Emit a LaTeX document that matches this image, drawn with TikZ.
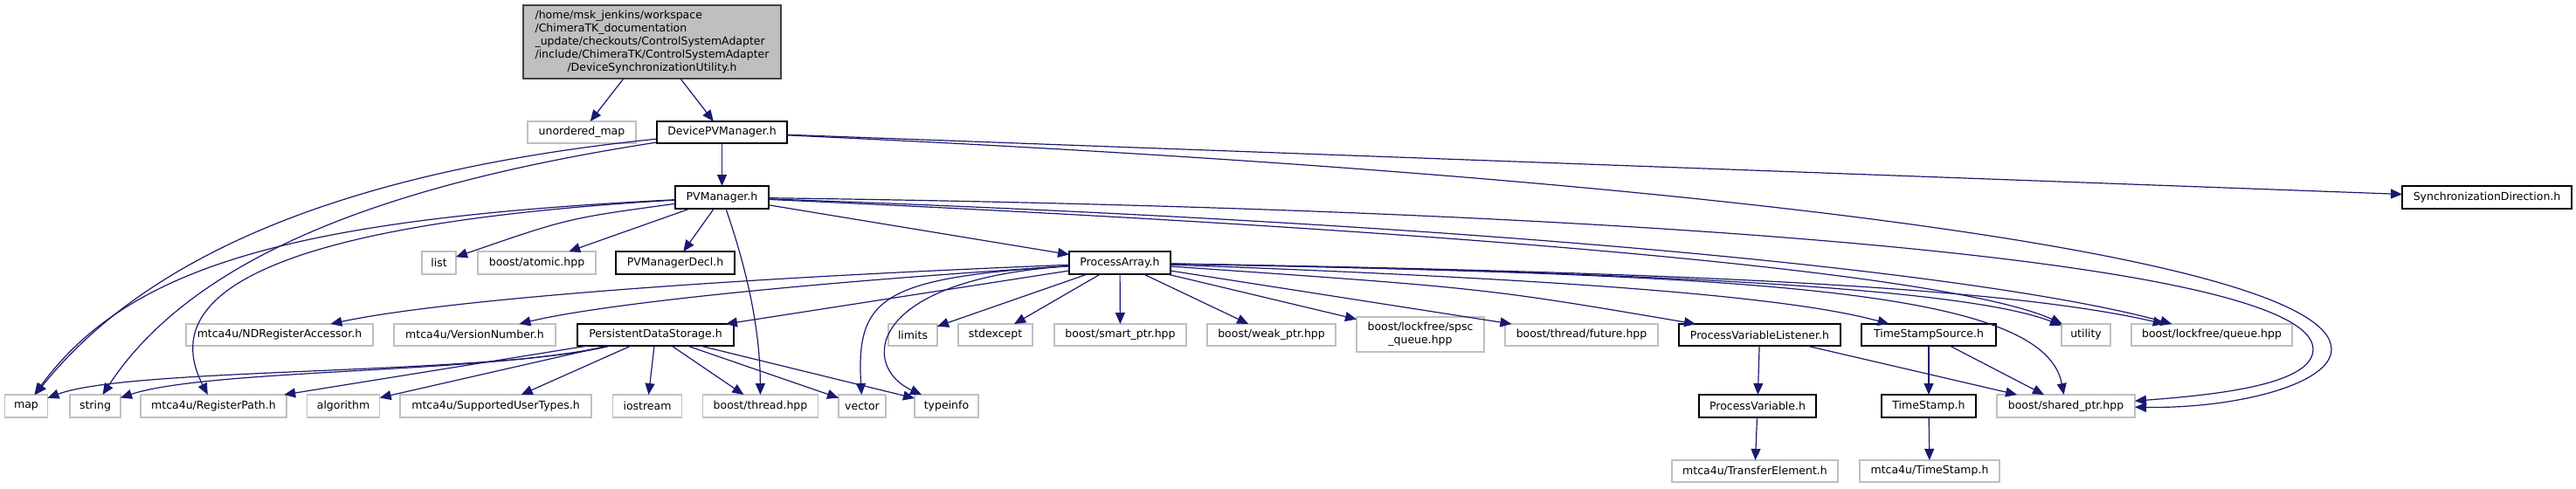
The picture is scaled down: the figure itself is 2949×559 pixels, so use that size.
\documentclass[tikz,border=0pt]{standalone}
\usepackage{fontspec}
\setmainfont{DejaVu Sans}
\usetikzlibrary{arrows.meta,calc}
\definecolor{edgeblue}{HTML}{191970}
\definecolor{boxgray}{HTML}{BFBFBF}
\definecolor{rootfill}{HTML}{BFBFBF}
\definecolor{rootdraw}{HTML}{404040}
\begin{document}
\begin{tikzpicture}[x=0.5pt,y=-0.5pt,
  every node/.style={font=\fontsize{6.25}{7.5}\selectfont, inner sep=0pt, outer sep=0pt, text=black},
  sz/.style 2 args={minimum width=#1*0.5pt, minimum height=#2*0.5pt},
  gbox/.style={draw=boxgray, line width=0.6pt, fill=white},
  kbox/.style={draw=black, line width=0.6pt, fill=white},
  rbox/.style={draw=rootdraw, line width=0.6pt, fill=rootfill},
  dep/.style={draw=edgeblue, line width=0.6pt, -{Triangle[length=6.5pt,width=5.5pt]}}
]
\useasboundingbox (0,0) rectangle (2949,559);
% row 0
\node[rbox,sz={295}{84}] (root) at (746.5,48) {\begin{tabular}{@{}l@{}}/home/msk\_jenkins/workspace\\/ChimeraTK\_documentation\\\_update/checkouts/ControlSystemAdapter\\/include/ChimeraTK/ControlSystemAdapter\\\multicolumn{1}{@{}c@{}}{/DeviceSynchronizationUtility.h}\end{tabular}};
% row 1
\node[gbox,sz={124}{25}] (umap) at (666,151.5) {unordered\_map};
\node[kbox,sz={149}{25}] (dpv) at (826.5,151.5) {DevicePVManager.h};
% row 2
\node[kbox,sz={107}{26}] (pvm) at (826.5,226) {PVManager.h};
\node[kbox,sz={194}{26}] (sync) at (2847,226) {SynchronizationDirection.h};
% row 3
\node[gbox,sz={39}{26}] (list) at (502.5,301) {list};
\node[gbox,sz={135}{26}] (atomic) at (614.5,301) {boost/atomic.hpp};
\node[kbox,sz={136}{26}] (decl) at (773,301) {PVManagerDecl.h};
\node[kbox,sz={116}{26}] (pa) at (1282,301) {ProcessArray.h};
% row 4
\node[gbox,sz={214}{25}] (nd) at (320,383.5) {mtca4u/NDRegisterAccessor.h};
\node[gbox,sz={185}{25}] (vn) at (543.5,383.5) {mtca4u/VersionNumber.h};
\node[kbox,sz={179}{25}] (pds) at (750.5,383.5) {PersistentDataStorage.h};
\node[gbox,sz={56}{25}] (limits) at (1045,383.5) {limits};
\node[gbox,sz={85}{25}] (stdexc) at (1139.5,383.5) {stdexcept};
\node[gbox,sz={151}{25}] (smart) at (1282.5,383.5) {boost/smart\_ptr.hpp};
\node[gbox,sz={147}{25}] (weak) at (1455.5,383.5) {boost/weak\_ptr.hpp};
\node[gbox,sz={146}{40},align=center] (spsc) at (1626,383) {boost/lockfree/spsc\\\_queue.hpp};
\node[gbox,sz={175}{25}] (future) at (1810.5,383.5) {boost/thread/future.hpp};
\node[kbox,sz={185}{25}] (pvl) at (2014.5,383.5) {ProcessVariableListener.h};
\node[kbox,sz={154}{25}] (tss) at (2208,383.5) {TimeStampSource.h};
\node[gbox,sz={56}{25}] (util) at (2388,383.5) {utility};
\node[gbox,sz={184}{25}] (queue) at (2532,383.5) {boost/lockfree/queue.hpp};
% row 5
\node[gbox,sz={49}{26}] (map) at (30,465) {map};
\node[gbox,sz={58}{26}] (string) at (109,465) {string};
\node[gbox,sz={167}{26}] (regpath) at (244.5,465) {mtca4u/RegisterPath.h};
\node[gbox,sz={83.5}{26}] (algo) at (393,465) {algorithm};
\node[gbox,sz={219}{26}] (sut) at (567.5,465) {mtca4u/SupportedUserTypes.h};
\node[gbox,sz={78.5}{26}] (iostream) at (741,465) {iostream};
\node[gbox,sz={131.5}{26}] (thread) at (870.5,465) {boost/thread.hpp};
\node[gbox,sz={54}{26}] (vector) at (987,465) {vector};
\node[gbox,sz={73}{26}] (typeinfo) at (1083.5,465) {typeinfo};
\node[kbox,sz={134}{26}] (pv) at (2012,465) {ProcessVariable.h};
\node[kbox,sz={108}{26}] (ts) at (2208,465) {TimeStamp.h};
\node[gbox,sz={158}{26}] (shared) at (2365,465) {boost/shared\_ptr.hpp};
% row 6
\node[gbox,sz={190}{25}] (transfer) at (2009,539.5) {mtca4u/TransferElement.h};
\node[gbox,sz={160}{25}] (mts) at (2209,539.5) {mtca4u/TimeStamp.h};

% edges from root
\draw[dep] (root) -- (umap);
\draw[dep] (root) -- (dpv);
% DevicePVManager
\draw[dep] (dpv) -- (pvm);
\draw[dep] (dpv) .. controls (400,195) and (170,290) .. (map);
\draw[dep] (dpv) .. controls (480,205) and (230,280) .. (string);
\draw[dep] (dpv) -- (sync);
\draw[dep] (dpv) .. controls (1900,200) and (2669,290) .. (2669,400) .. controls (2669,440) and (2560,468) .. (shared);
% PVManager
\draw[dep] (pvm) .. controls (350,250) and (150,300) .. (map);
\draw[dep] (pvm) .. controls (330,255) and (175,330) .. (regpath);
\draw[dep] (pvm) .. controls (650,250) .. (list);
\draw[dep] (pvm) -- (atomic);
\draw[dep] (pvm) -- (decl);
\draw[dep] (pvm) -- (pa);
\draw[dep] (pvm) .. controls (852,300) and (870,370) .. (thread);
\draw[dep] (pvm) .. controls (1800,270) and (2250,320) .. (util);
\draw[dep] (pvm) .. controls (1800,260) and (2300,320) .. (queue);
\draw[dep] (pvm) .. controls (1900,240) and (2648,300) .. (2648,400) .. controls (2648,440) and (2540,452) .. (shared);
% ProcessArray
\draw[dep] (pa) .. controls (800,320) and (500,345) .. (nd);
\draw[dep] (pa) .. controls (900,325) and (680,350) .. (vn);
\draw[dep] (pa) -- (pds);
\draw[dep] (pa) -- (limits);
\draw[dep] (pa) -- (stdexc);
\draw[dep] (pa) -- (smart);
\draw[dep] (pa) -- (weak);
\draw[dep] (pa) -- (spsc);
\draw[dep] (pa) -- (future);
\draw[dep] (pa) .. controls (1700,330) .. (pvl);
\draw[dep] (pa) .. controls (1800,320) and (2050,340) .. (tss);
\draw[dep] (pa) .. controls (1900,312) and (2250,330) .. (util);
\draw[dep] (pa) .. controls (1950,312) and (2300,330) .. (queue);
\draw[dep] (pa) .. controls (2000,315) and (2340,330) .. (shared);
\draw[dep] (pa) .. controls (1010,318) and (980,340) .. (vector);
\draw[dep] (pa) .. controls (990,320) and (985,420) .. (typeinfo);
% PersistentDataStorage
\draw[dep] (pds) .. controls (560,430) and (150,420) .. (map);
\draw[dep] (pds) .. controls (560,428) and (240,422) .. (string);
\draw[dep] (pds) -- (regpath);
\draw[dep] (pds) -- (algo);
\draw[dep] (pds) -- (sut);
\draw[dep] (pds) -- (iostream);
\draw[dep] (pds) -- (thread);
\draw[dep] (pds) -- (vector);
\draw[dep] (pds) -- (typeinfo);
% others
\draw[dep] (pvl) -- (pv);
\draw[dep] (pvl) -- (shared);
\draw[dep] (tss) -- (ts);
\draw[dep] (tss) -- (shared);
\draw[dep] (pv) -- (transfer);
\draw[dep] (ts) -- (mts);
\end{tikzpicture}
\end{document}
